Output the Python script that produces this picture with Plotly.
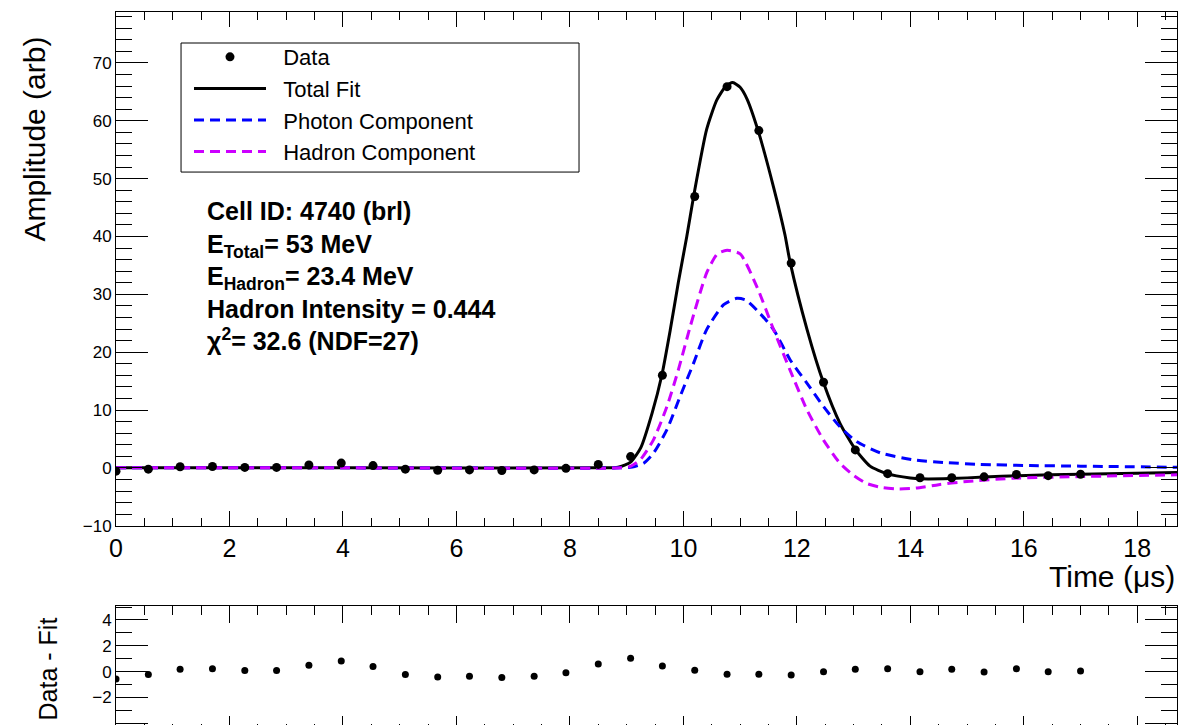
import plotly.graph_objects as go

# sampled pulse (time in us)
time = [0.00, 0.57, 1.13, 1.70, 2.27, 2.83, 3.40, 3.97, 4.53, 5.10, 5.67, 6.23, 6.80, 7.37, 7.93, 8.50,
        9.07, 9.63, 10.20, 10.77, 11.33, 11.90, 12.47, 13.03, 13.60, 14.17, 14.73, 15.30, 15.87, 16.43, 17.00]
amplitude = [-0.57, -0.23, 0.19, 0.23, 0.08, 0.08, 0.50, 0.83, 0.39, -0.23, -0.41, -0.36, -0.46, -0.36, -0.08, 0.60,
             1.95, 16.0, 46.9, 65.9, 58.3, 35.4, 14.8, 3.1, -1.0, -1.7, -1.7, -1.55, -1.15, -1.35, -1.1]
residual = [-0.57, -0.23, 0.19, 0.23, 0.08, 0.08, 0.50, 0.83, 0.39, -0.23, -0.41, -0.36, -0.46, -0.36, -0.08, 0.60,
            1.04, 0.44, 0.11, -0.20, -0.20, -0.26, 0.00, 0.19, 0.23, 0.00, 0.19, -0.02, 0.23, 0.00, 0.05]

# fit curves
fit_t = [0, 4, 8.5, 8.85, 9.07, 9.25, 9.45, 9.62, 9.77, 9.91, 10.06, 10.18, 10.41, 10.59, 10.75, 10.87, 11.0,
         11.12, 11.32, 11.59, 11.79, 11.88, 12.18, 12.47, 12.76, 13.03, 13.29, 13.59, 14.0, 14.2, 14.7, 15.3,
         15.9, 17.0, 18.7]
fit_total = [0, 0, 0, 0.1, 1.0, 3.5, 9.5, 16.0, 23.9, 32.0, 40.0, 46.9, 58.5, 63.6, 66.0, 66.6, 65.8,
             63.8, 58.2, 48.5, 40.3, 35.6, 23.9, 14.7, 7.7, 3.2, 0.3, -1.0, -1.75, -1.9, -1.85, -1.6,
             -1.35, -1.1, -0.8]

photon_t = [0, 4, 8.9, 9.1, 9.3, 9.47, 9.71, 9.94, 10.18, 10.41, 10.71, 10.94, 11.1, 11.35, 11.59, 11.88,
            12.18, 12.47, 12.76, 13.06, 13.47, 14.05, 14.64, 15.23, 16.11, 17.0, 18.7]
photon = [0, 0, 0, 0.15, 0.8, 2.5, 6.6, 12.3, 18.1, 23.9, 28.2, 29.3, 29.0, 26.7, 23.9, 18.7,
          14.6, 10.6, 7.1, 4.5, 2.6, 1.4, 0.9, 0.6, 0.4, 0.3, 0.1]

hadron_t = [0, 4, 8.9, 9.05, 9.24, 9.47, 9.71, 9.91, 10.12, 10.41, 10.6, 10.77, 11.0, 11.3, 11.59, 11.88,
            12.18, 12.47, 12.76, 13.0, 13.23, 13.5, 13.8, 14.1, 14.5, 14.94, 15.81, 17.0, 18.7]
hadron = [0, 0, 0, 0.2, 1.4, 4.8, 10.6, 16.9, 24.4, 33.7, 37.0, 37.6, 37.0, 31.2, 23.9, 16.9,
          10.0, 4.8, 0.8, -1.3, -2.7, -3.4, -3.65, -3.5, -2.9, -2.4, -1.8, -1.5, -1.2]

stats = ["<b>Cell ID: 4740 (brl)</b>",
         "<b>E<sub>Total</sub>= 53 MeV</b>",
         "<b>E<sub>Hadron</sub>= 23.4 MeV</b>",
         "<b>Hadron Intensity = 0.444</b>",
         "<b>χ<sup>2</sup>= 32.6 (NDF=27)</b>"]

FONT = "Liberation Sans, Arial, Helvetica, sans-serif"
SP = "&nbsp;&nbsp;"

fig = go.Figure()
fig.add_trace(go.Scatter(x=fit_t, y=fit_total, mode="lines", name=SP + "Total Fit", legendrank=2,
                         line=dict(color="black", width=3, shape="spline", smoothing=0.6)))
fig.add_trace(go.Scatter(x=photon_t, y=photon, mode="lines", name=SP + "Photon Component", legendrank=3,
                         line=dict(color="#0000ff", width=3, dash="10px,6px", shape="spline", smoothing=0.6)))
fig.add_trace(go.Scatter(x=hadron_t, y=hadron, mode="lines", name=SP + "Hadron Component", legendrank=4,
                         line=dict(color="#cc00ff", width=3, dash="10px,6px", shape="spline", smoothing=0.6)))
fig.add_trace(go.Scatter(x=time, y=amplitude, mode="markers", name=SP + "Data", legendrank=1,
                         marker=dict(color="black", size=9)))
fig.add_trace(go.Scatter(x=time, y=residual, mode="markers", showlegend=False,
                         marker=dict(color="black", size=7), xaxis="x2", yaxis="y2"))

ax = dict(showline=True, linecolor="black", linewidth=1, showgrid=False, zeroline=False,
          ticks="inside", tickcolor="black", tickwidth=1, color="black", automargin=False,
          mirror="ticks")

fig.update_layout(
    width=1188, height=725,
    margin=dict(l=108, r=19, t=4, b=0),
    paper_bgcolor="white", plot_bgcolor="white",
    font=dict(family=FONT, color="black"),
    xaxis=dict(ax, domain=[0, 1], anchor="y", range=[0, 18.7], tick0=0, dtick=2, ticklen=15,
               tickfont=dict(size=25),
               minor=dict(dtick=0.5, ticklen=8, ticks="inside", tickcolor="black")),
    yaxis=dict(ax, domain=[0.2875, 1], anchor="x", range=[-10, 78.8], tick0=0, dtick=10, ticklen=32,
               tickfont=dict(size=17),
               minor=dict(dtick=2, ticklen=16, ticks="inside", tickcolor="black")),
    xaxis2=dict(ax, domain=[0, 1], anchor="y2", range=[0, 18.7], tick0=0, dtick=2,
                ticklen=17, showticklabels=False,
                minor=dict(dtick=0.5, ticklen=9, ticks="inside", tickcolor="black")),
    yaxis2=dict(ax, domain=[0, 0.1761], anchor="x2", range=[-4.75, 5.08], tick0=0, dtick=2, ticklen=32,
                tickfont=dict(size=17),
                minor=dict(dtick=1, ticklen=16, ticks="inside", tickcolor="black")),
    legend=dict(x=0.0688, y=0.9667, xanchor="left", yanchor="top", bgcolor="rgba(0,0,0,0)",
                borderwidth=0, font=dict(size=22), itemwidth=72, traceorder="normal"),
)

# legend frame
fig.add_shape(type="rect", xref="paper", yref="paper", x0=0.0613, x1=0.4364, y0=0.778, y1=0.957,
              line=dict(color="black", width=1), layer="above")

fig.add_annotation(text="Amplitude (arb)", textangle=-90, xref="paper", yref="paper",
                   x=-0.0763, y=0.968, xanchor="center", yanchor="top", showarrow=False,
                   font=dict(size=30))
fig.add_annotation(text="Time (μs)", xref="paper", yref="paper", x=1, y=0.2164,
                   xanchor="right", yanchor="middle", showarrow=False, font=dict(size=30))
fig.add_annotation(text="Data - Fit", textangle=-90, xref="paper", yref="paper",
                   x=-0.0641, y=0.1637, xanchor="center", yanchor="top", showarrow=False,
                   font=dict(size=25))
fig.add_annotation(text="<br>".join(stats), xref="paper", yref="paper", x=0.0839, y=0.746,
                   xanchor="left", yanchor="top", align="left", showarrow=False,
                   font=dict(size=25))

fig.write_html("out.html")
